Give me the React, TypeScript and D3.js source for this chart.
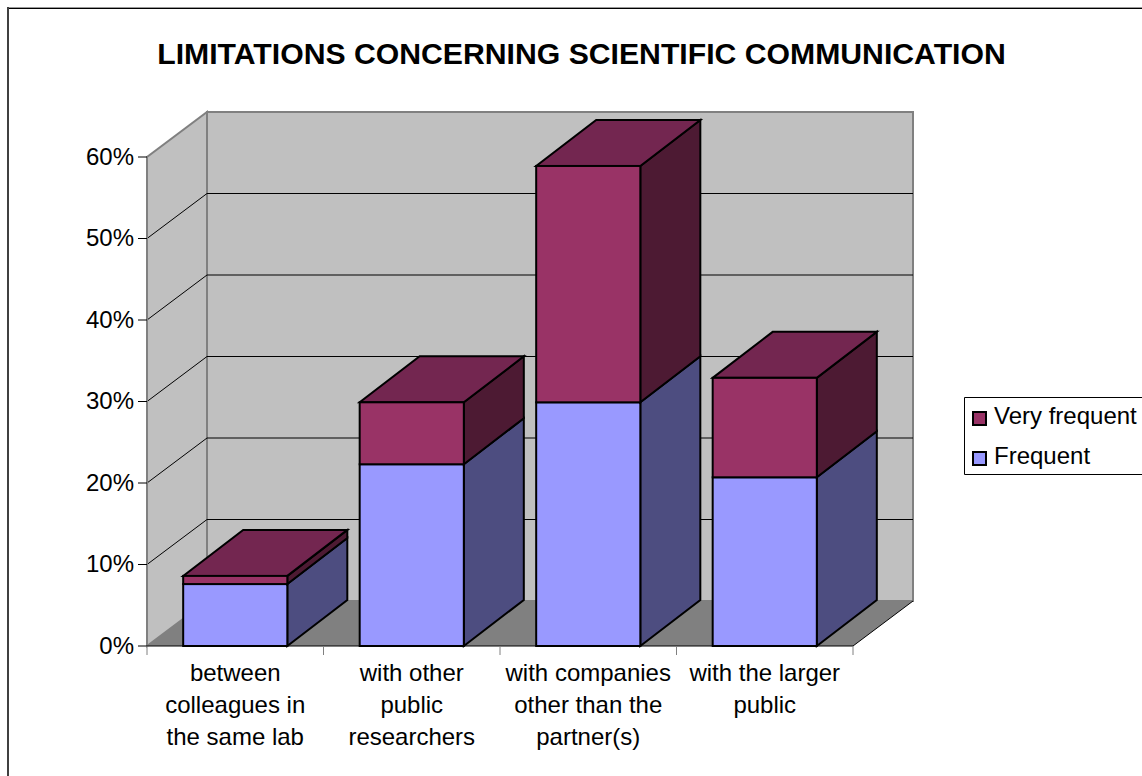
import React from "react";
import * as d3 from "d3";

const categories = [
  ["between", "colleagues in", "the same lab"],
  ["with other", "public", "researchers"],
  ["with companies", "other than the", "partner(s)"],
  ["with the larger", "public"],
];
const frequent = [7.6, 22.3, 29.9, 20.7];
const veryFrequent = [1.0, 7.6, 29.0, 12.2];
const yTicks = [0, 10, 20, 30, 40, 50, 60];
const titleText = "LIMITATIONS CONCERNING SCIENTIFIC COMMUNICATION";
const seriesNames = ["Very frequent", "Frequent"];

const FONT = "'Liberation Sans', Arial, sans-serif";
const WIDTH = 1142;
const HEIGHT = 776;
const DEPTH_X = 60;
const DEPTH_Y = -45;
const BAR_DEPTH_X = 60;
const BAR_DEPTH_Y = -46;
const LABEL_SIZE = 24;

const x = d3
  .scaleBand<number>()
  .domain(d3.range(categories.length))
  .range([147, 853])
  .paddingInner(0.41)
  .paddingOuter(0.205);
const y = d3.scaleLinear().domain([0, 60]).range([646, 157]);

const poly = (pts: [number, number][]) => {
  const path = d3.path();
  pts.forEach((p, i) => (i === 0 ? path.moveTo(p[0], p[1]) : path.lineTo(p[0], p[1])));
  path.closePath();
  return path.toString();
};

// One stacked segment: right side, optional top cap, then the front face.
function Box({ x0, w, low, high, front, side, top }: any) {
  const x1 = x0 + w;
  const yl = y(low);
  const yh = y(high);
  const dx = BAR_DEPTH_X;
  const dy = BAR_DEPTH_Y;
  return (
    <g stroke="#000" strokeWidth={2} strokeLinejoin="miter">
      <path d={poly([[x1, yl], [x1 + dx, yl + dy], [x1 + dx, yh + dy], [x1, yh]])} fill={side} />
      {top && <path d={poly([[x0, yh], [x1, yh], [x1 + dx, yh + dy], [x0 + dx, yh + dy]])} fill={top} />}
      <rect x={x0} y={yh} width={w} height={yl - yh} fill={front} />
    </g>
  );
}

export default function App() {
  const [left, right] = x.range();
  const bottom = y(0);
  const topY = y(60);
  const backLeft = left + DEPTH_X;
  const backRight = right + DEPTH_X;
  return (
    <svg
      width={WIDTH}
      height={HEIGHT}
      style={{ position: "absolute", left: 0, top: 0, background: "#fff" }}
      fontFamily={FONT}
    >
      {/* chart frame: only the top and left edges fall inside the page */}
      <path d={`M8,7.5H${WIDTH}`} fill="none" stroke="#999" />
      <path d={`M8,8.5H${WIDTH}`} fill="none" stroke="#000" />
      <path d={`M8,7V${HEIGHT}`} fill="none" stroke="#404040" strokeWidth={2} />

      <text x={581.5} y={64} textAnchor="middle" fontSize={30.2} fontWeight={700} fill="#000">
        {titleText}
      </text>

      {/* walls and floor */}
      <path d={poly([[left, bottom], [backLeft, bottom + DEPTH_Y], [backLeft, topY + DEPTH_Y], [left, topY]])} fill="#c0c0c0" stroke="#808080" strokeWidth={2} />
      <rect x={backLeft} y={topY + DEPTH_Y} width={right - left} height={bottom - topY} fill="#c0c0c0" stroke="#808080" strokeWidth={2} />
      <path d={poly([[left, bottom], [right, bottom], [backRight, bottom + DEPTH_Y], [backLeft, bottom + DEPTH_Y]])} fill="#808080" />

      {/* gridlines along the side wall and back wall */}
      {yTicks.slice(1, -1).map((t) => (
        <path
          key={t}
          d={`M${left},${y(t)}L${backLeft},${y(t) + DEPTH_Y}L${backRight},${y(t) + DEPTH_Y}`}
          fill="none"
          stroke="#000"
          strokeWidth={1}
        />
      ))}
      <path d={`M${right},${bottom}L${backRight},${bottom + DEPTH_Y}`} stroke="#000" fill="none" />

      {/* axes */}
      <path d={`M${left},${topY}L${left},${bottom}`} stroke="#808080" strokeWidth={2} fill="none" />
      <path d={`M${left},${bottom}L${right},${bottom}`} stroke="#000" strokeWidth={1} fill="none" />
      {yTicks.map((t) => (
        <g key={t}>
          <line x1={left - 9} x2={left} y1={y(t)} y2={y(t)} stroke="#000" />
          <text x={134} y={y(t) + 7.5} textAnchor="end" fontSize={LABEL_SIZE} fill="#000">
            {t}%
          </text>
        </g>
      ))}
      {d3.range(categories.length + 1).map((i) => {
        const tx = left + (i * (right - left)) / categories.length;
        return <line key={i} x1={tx} x2={tx} y1={bottom} y2={bottom + 9} stroke="#808080" />;
      })}

      {/* stacked bars, lower segment first so the upper one sits on it */}
      {categories.map((_, i) => {
        const x0 = x(i) as number;
        const w = x.bandwidth();
        return (
          <g key={i}>
            <Box x0={x0} w={w} low={0} high={frequent[i]} front="#9999ff" side="#4d4d80" />
            <Box x0={x0} w={w} low={frequent[i]} high={frequent[i] + veryFrequent[i]} front="#993366" side="#4d1a33" top="#732650" />
          </g>
        );
      })}

      {/* category labels */}
      {categories.map((lines, i) => (
        <text key={i} textAnchor="middle" fontSize={LABEL_SIZE} fill="#000">
          {lines.map((l, j) => (
            <tspan key={j} x={left + (i + 0.5) * ((right - left) / categories.length)} y={681 + j * 32}>
              {l}
            </tspan>
          ))}
        </text>
      ))}

      {/* legend */}
      <path d={`M${WIDTH},397.5H964.5V474.5H${WIDTH}`} fill="#fff" stroke="#000" />
      {seriesNames.map((name, i) => (
        <g key={name}>
          <rect x={973} y={412 + i * 40} width={13} height={13} fill={i === 0 ? "#993366" : "#9999ff"} stroke="#000" strokeWidth={2} />
          <text x={994} y={424 + i * 40} fontSize={LABEL_SIZE} fill="#000">
            {name}
          </text>
        </g>
      ))}
    </svg>
  );
}
